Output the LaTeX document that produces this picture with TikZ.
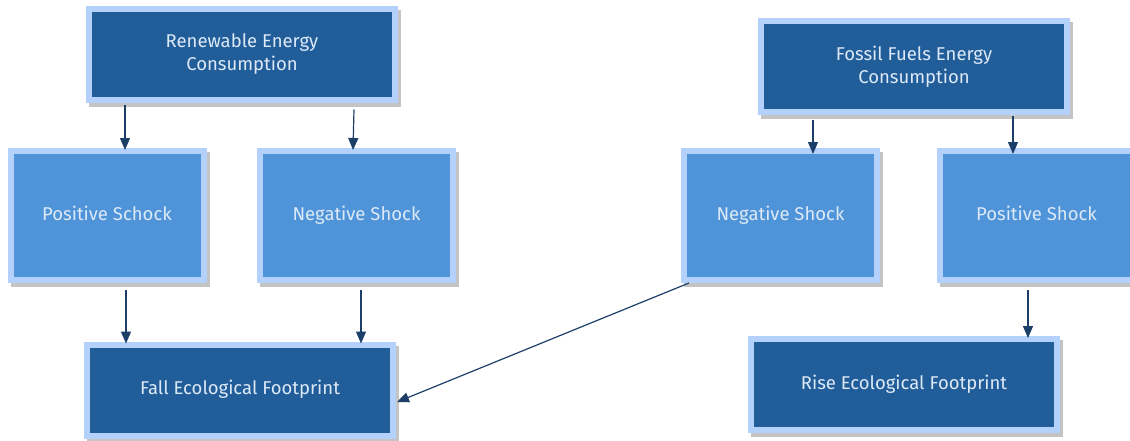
\documentclass[tikz,border=0pt]{standalone}
\usepackage{fontspec}
\setmainfont{Fira Sans}
\usetikzlibrary{shadows,arrows.meta}
\definecolor{darkbox}{HTML}{215E99}
\definecolor{midbox}{HTML}{4F94D8}
\definecolor{lightrim}{HTML}{B3D1FB}
\definecolor{txtc}{HTML}{DDE9F7}
\definecolor{arrc}{HTML}{1B3F66}
\definecolor{shadc}{HTML}{C4C4C4}
\begin{document}
\begin{tikzpicture}[x=1pt,y=-1pt,
  basebox/.style={draw=lightrim, line width=6pt, outer sep=3pt, inner sep=0pt,
    text=txtc, font=\fontsize{18.5}{23}\selectfont, align=center,
    general shadow={shadow xshift=3pt, shadow yshift=-4pt, fill=shadc, draw=shadc, line width=6pt}},
  oneline/.style={text height=13pt, text depth=4pt},
  darkstep/.style={basebox, fill=darkbox, minimum width=306pt, minimum height=91pt},
  shockbox/.style={basebox, oneline, fill=midbox, minimum width=193pt, minimum height=129pt},
  arr/.style={draw=arrc, line width=1.2pt, -{Triangle[width=10pt,length=12pt]}}]
\useasboundingbox (0,0) rectangle (1130,440);
\node[darkstep] (ren) at (242,54) {Renewable Energy\\Consumption};
\node[shockbox] (pl) at (107,215.5) {Positive Schock};
\node[shockbox] (nl) at (356.5,215.5) {Negative Shock};
\node[darkstep, oneline] (fall) at (240,390) {Fall Ecological Footprint};
\node[darkstep] (fos) at (914,66.5) {Fossil Fuels Energy\\Consumption};
\node[shockbox] (nr) at (780.5,215.5) {Negative Shock};
\node[shockbox] (pr) at (1036.5,215.5) {Positive Shock};
\node[darkstep, oneline] (rise) at (904,384.5) {Rise Ecological Footprint};
\draw[arr] ([xshift=-117pt,yshift=-2pt]ren.south) -- ([xshift=18pt,yshift=-2pt]pl.north);
\draw[arr] ([xshift=112pt,yshift=-7pt]ren.south) -- ([xshift=-3.5pt,yshift=-2pt]nl.north);
\draw[arr] ([xshift=19pt,yshift=-7pt]pl.south) -- ([xshift=-114pt,yshift=-2pt]fall.north);
\draw[arr] ([xshift=4.5pt,yshift=-7pt]nl.south) -- ([xshift=121pt,yshift=-2pt]fall.north);
\draw[arr] ([xshift=8pt]nr.south west) -- ([xshift=1pt,yshift=-12pt]fall.east);
\draw[arr] ([xshift=-101pt,yshift=-5pt]fos.south) -- ([xshift=32.5pt,yshift=-6pt]nr.north);
\draw[arr] ([xshift=99pt,yshift=-1pt]fos.south) -- ([xshift=-23.5pt,yshift=-6pt]pr.north);
\draw[arr] ([xshift=-8.5pt,yshift=-7pt]pr.south) -- ([xshift=124pt,yshift=-2pt]rise.north);
\end{tikzpicture}
\end{document}
